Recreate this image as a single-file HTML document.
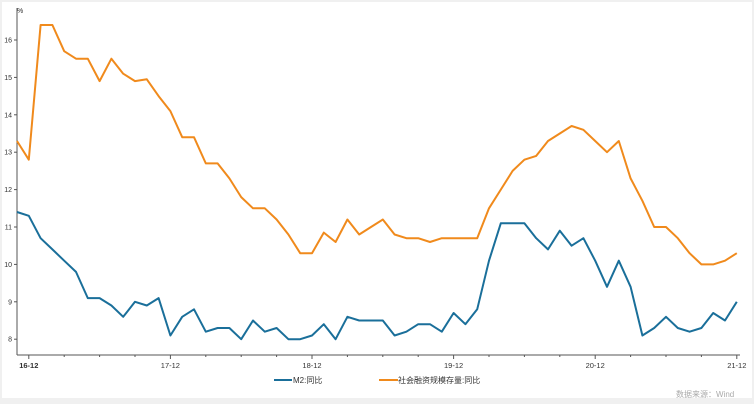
<!DOCTYPE html>
<html><head><meta charset="utf-8"><style>
html,body{margin:0;padding:0;background:#f0f0f0;}
#c{position:relative;width:754px;height:404px;overflow:hidden;font-family:"Liberation Sans","Noto Sans CJK SC",sans-serif;}
</style></head><body><div id="c">
<svg id="s" width="754" height="404" xmlns="http://www.w3.org/2000/svg" font-family="Liberation Sans, Noto Sans CJK SC, sans-serif">
<rect x="2" y="2" width="750" height="396" fill="#fff"/>
<g id="ax" stroke="#555" stroke-width="1" fill="none"></g>
<g id="lbl" font-size="7" fill="#333"></g>
<text x="17" y="13" font-size="7" fill="#333">%</text>
<g id="ln"></g>
<line x1="274" y1="380" x2="292" y2="380" stroke="#1a6f9a" stroke-width="2"/>
<text x="293" y="383" font-size="8" fill="#333">M2:同比</text>
<line x1="379" y1="380" x2="398" y2="380" stroke="#f08a1c" stroke-width="2"/>
<text x="398" y="383" font-size="8" fill="#333">社会融资规模存量:同比</text>
<text x="676" y="397" font-size="8" fill="#aaa">数据来源：Wind</text>
</svg>
<script>
var NS="http://www.w3.org/2000/svg";
function el(t,a,p){var e=document.createElementNS(NS,t);for(var k in a)e.setAttribute(k,a[k]);p.appendChild(e);return e;}
function Y(v){return 40+(16-v)*37.4;}
function X(i){return 17+11.8*i;}
var ax=document.getElementById('ax'),lb=document.getElementById('lbl'),ln=document.getElementById('ln');
el('line',{x1:17,y1:8,x2:17,y2:355},ax);
el('line',{x1:17,y1:355,x2:740,y2:355},ax);
for(var v=8;v<=16;v++){el('line',{x1:14,y1:Y(v),x2:17,y2:Y(v)},ax);var t=el('text',{x:12,y:Y(v)+2.5,'text-anchor':'end'},lb);t.textContent=v;}
for(var i=1;i<=61;i+=3){var big=((i-1)%12==0);el('line',{x1:X(i),y1:355,x2:X(i),y2:big?359:357},ax);}
var labs=['16-12','17-12','18-12','19-12','20-12','21-12'];
for(var j=0;j<6;j++){var t=el('text',{x:X(1+12*j),y:368,'text-anchor':'middle','font-size':'7.5',fill:'#333','font-weight':j==0?'bold':'normal'},lb);t.textContent=labs[j];}
var m2=[11.4,11.3,10.7,10.4,10.1,9.8,9.1,9.1,8.9,8.6,9.0,8.9,9.1,8.1,8.6,8.8,8.2,8.3,8.3,8.0,8.5,8.2,8.3,8.0,8.0,8.1,8.4,8.0,8.6,8.5,8.5,8.5,8.1,8.2,8.4,8.4,8.2,8.7,8.4,8.8,10.1,11.1,11.1,11.1,10.7,10.4,10.9,10.5,10.7,10.1,9.4,10.1,9.4,8.1,8.3,8.6,8.3,8.2,8.3,8.7,8.5,9.0];
var sf=[13.3,12.8,16.4,16.4,15.7,15.5,15.5,14.9,15.5,15.1,14.9,14.95,14.5,14.1,13.4,13.4,12.7,12.7,12.3,11.8,11.5,11.5,11.2,10.8,10.3,10.3,10.85,10.6,11.2,10.8,11.0,11.2,10.8,10.7,10.7,10.6,10.7,10.7,10.7,10.7,11.5,12.0,12.5,12.8,12.9,13.3,13.5,13.7,13.6,13.3,13.0,13.3,12.3,11.7,11.0,11.0,10.7,10.3,10.0,10.0,10.1,10.3];
function pl(d,c){var p=d.map(function(v,i){return X(i).toFixed(1)+','+Y(v).toFixed(1);}).join(' ');el('polyline',{points:p,fill:'none',stroke:c,'stroke-width':2,'stroke-linejoin':'round'},ln);}
pl(sf,'#f08a1c');pl(m2,'#1a6f9a');
</script>
</div></body></html>
